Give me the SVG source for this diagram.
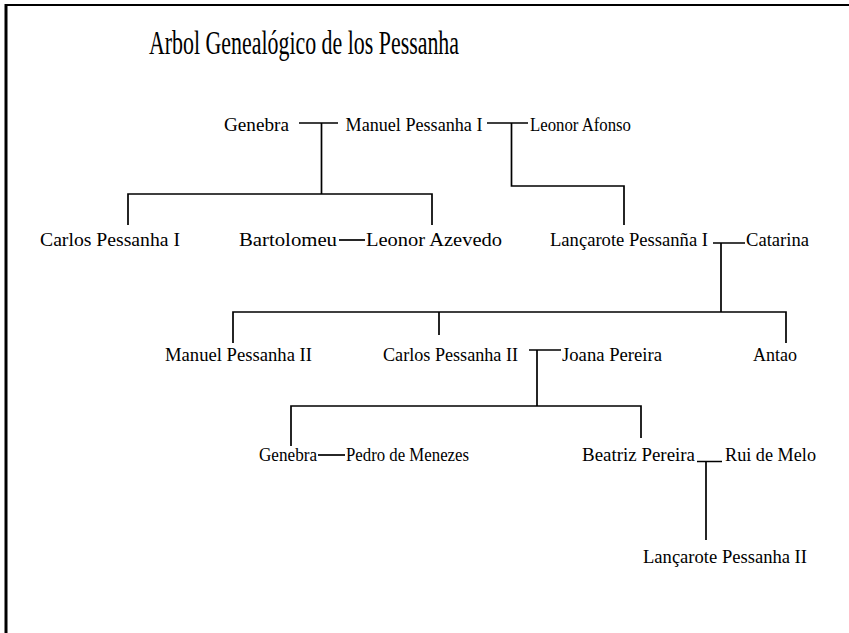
<svg xmlns="http://www.w3.org/2000/svg" width="849" height="633" viewBox="0 0 849 633">
<style>
.t{font-family:"Liberation Serif","Times New Roman",serif;font-size:19px;fill:#000}
.title{font-family:"Liberation Serif","Times New Roman",serif;font-size:34px;fill:#000}
.c{stroke:#000;stroke-width:1.7;fill:none}
</style>
<rect width="849" height="633" fill="#fff"/>
<g id="frame">
<line x1="5" y1="5" x2="849" y2="5" stroke="#000" stroke-width="2"/>
<line x1="6" y1="4" x2="6" y2="633" stroke="#000" stroke-width="3"/>
</g>
<text id="title" class="title" x="149" y="54" textLength="310" lengthAdjust="spacingAndGlyphs">Arbol Genealógico de los Pessanha</text>
<g id="connectors">
<path class="c" d="M299 123H338M321.5 123V194"/>
<path class="c" d="M487 123H528M511.5 123V186H624V225"/>
<path class="c" d="M128 225V194H432V225"/>
<path class="c" d="M339 240H365"/>
<path class="c" d="M713 243H745M721 243V312"/>
<path class="c" d="M233 343V312H786V343M439 312V335"/>
<path class="c" d="M529 350H561M537 350V406"/>
<path class="c" d="M291 446V406H641V438"/>
<path class="c" d="M318 455H345"/>
<path class="c" d="M697 461.5H722M706 461.5V540"/>
</g>
<g id="genebra1"><text class="t" x="224" y="131" textLength="65" lengthAdjust="spacingAndGlyphs">Genebra</text></g>
<g id="manuel1"><text class="t" x="345.5" y="131" textLength="137" lengthAdjust="spacingAndGlyphs">Manuel Pessanha I</text></g>
<g id="leonorAfonso"><text class="t" x="530" y="131" textLength="101" lengthAdjust="spacingAndGlyphs">Leonor Afonso</text></g>
<g id="carlos1"><text class="t" x="40" y="246" textLength="140" lengthAdjust="spacingAndGlyphs">Carlos Pessanha I</text></g>
<g id="bartolomeu"><text class="t" x="239" y="246" textLength="98" lengthAdjust="spacingAndGlyphs">Bartolomeu</text></g>
<g id="leonorAzevedo"><text class="t" x="366" y="246" textLength="136" lengthAdjust="spacingAndGlyphs">Leonor Azevedo</text></g>
<g id="lancarote1"><text class="t" x="550" y="246" textLength="158" lengthAdjust="spacingAndGlyphs">Lançarote Pessanña I</text></g>
<g id="catarina"><text class="t" x="746" y="246" textLength="63" lengthAdjust="spacingAndGlyphs">Catarina</text></g>
<g id="manuel2"><text class="t" x="165" y="361" textLength="147" lengthAdjust="spacingAndGlyphs">Manuel Pessanha II</text></g>
<g id="carlos2"><text class="t" x="383" y="361" textLength="135" lengthAdjust="spacingAndGlyphs">Carlos Pessanha II</text></g>
<g id="joana"><text class="t" x="562" y="361" textLength="100" lengthAdjust="spacingAndGlyphs">Joana Pereira</text></g>
<g id="antao"><text class="t" x="753" y="361" textLength="44" lengthAdjust="spacingAndGlyphs">Antao</text></g>
<g id="genebra2"><text class="t" x="259" y="461" textLength="58" lengthAdjust="spacingAndGlyphs">Genebra</text></g>
<g id="pedro"><text class="t" x="346" y="461" textLength="123" lengthAdjust="spacingAndGlyphs">Pedro de Menezes</text></g>
<g id="beatriz"><text class="t" x="582" y="461" textLength="113" lengthAdjust="spacingAndGlyphs">Beatriz Pereira</text></g>
<g id="rui"><text class="t" x="725" y="461" textLength="91" lengthAdjust="spacingAndGlyphs">Rui de Melo</text></g>
<g id="lancarote2"><text class="t" x="643" y="563" textLength="164" lengthAdjust="spacingAndGlyphs">Lançarote Pessanha II</text></g>
</svg>
